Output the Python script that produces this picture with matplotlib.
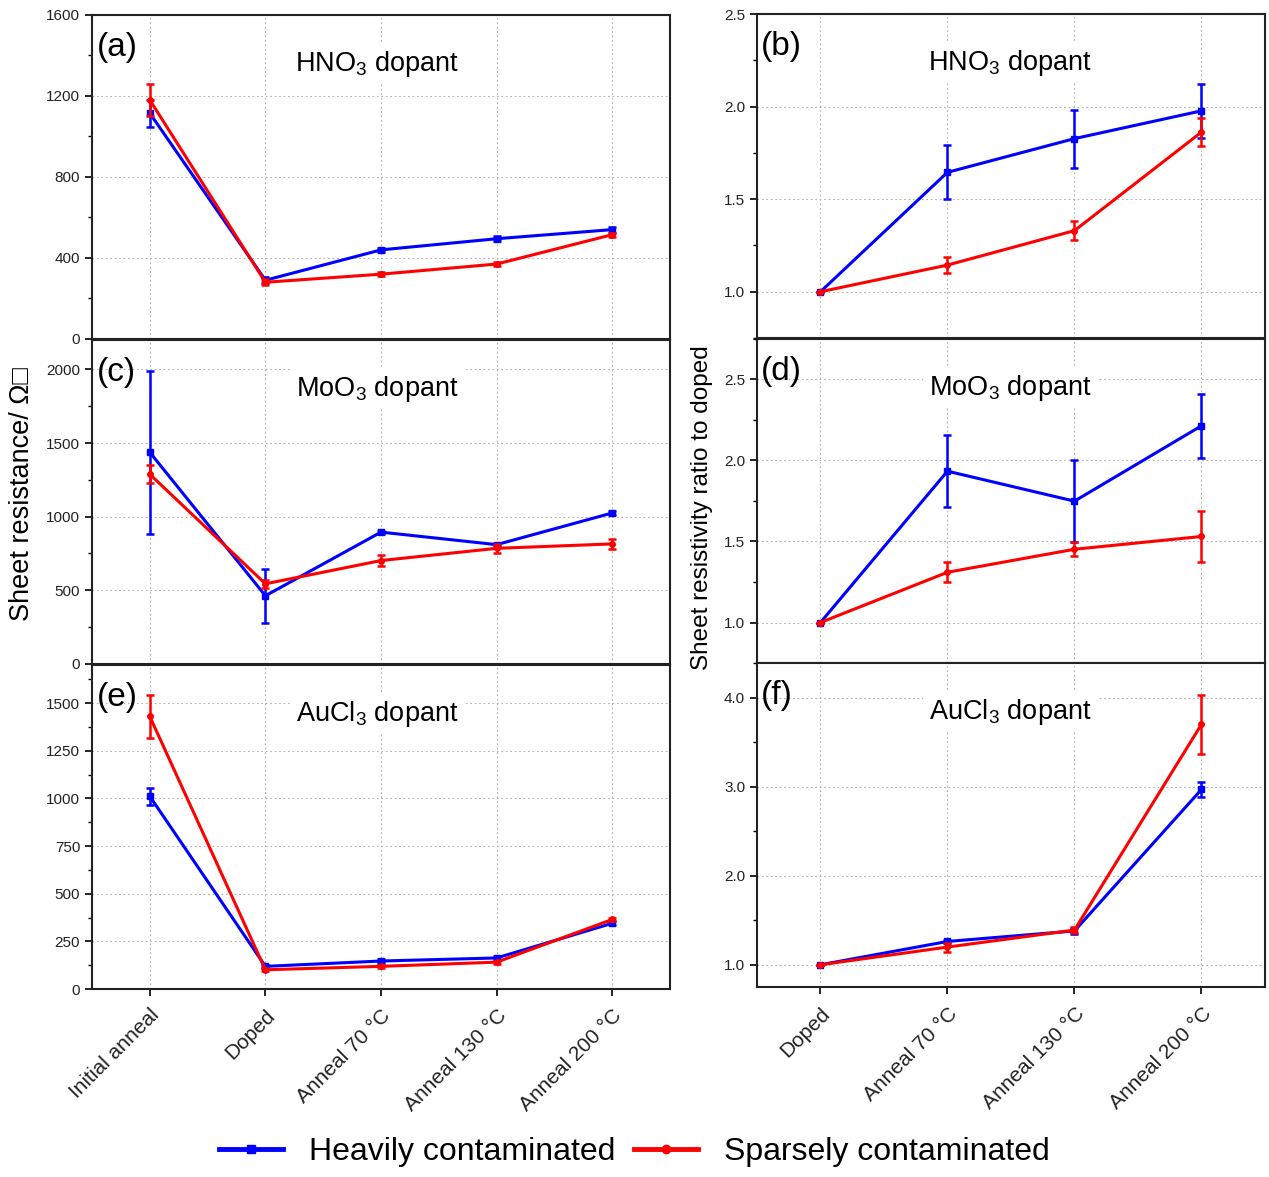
import numpy as np
import matplotlib
matplotlib.use("Agg")
import matplotlib.pyplot as plt
from matplotlib.ticker import MultipleLocator, FormatStrFormatter
from matplotlib.lines import Line2D

plt.rcParams['font.family'] = ['Liberation Sans', 'DejaVu Sans']
plt.rcParams['mathtext.fontset'] = 'custom'
plt.rcParams['mathtext.rm'] = 'Liberation Sans'

stages_left = ['Initial anneal', 'Doped', 'Anneal 70 °C', 'Anneal 130 °C', 'Anneal 200 °C']
stages_right = ['Doped', 'Anneal 70 °C', 'Anneal 130 °C', 'Anneal 200 °C']
dopants = ['HNO$_3$ dopant', 'MoO$_3$ dopant', 'AuCl$_3$ dopant']

# sheet resistance (ohm/sq), heavily / sparsely contaminated
hno3_heavy = [1115, 290, 440, 495, 540]
hno3_heavy_err = [67, 15, 10, 12, 15]
hno3_sparse = [1180, 280, 320, 370, 515]
hno3_sparse_err = [80, 15, 10, 8, 10]

moo3_heavy = [1437, 463, 895, 810, 1025]
moo3_heavy_err = [553, 183, 10, 12, 15]
moo3_sparse = [1288, 544, 702, 785, 815]
moo3_sparse_err = [60, 25, 40, 30, 35]

aucl3_heavy = [1011, 119, 147, 163, 345]
aucl3_heavy_err = [43, 8, 8, 8, 10]
aucl3_sparse = [1430, 101, 119, 141, 365]
aucl3_sparse_err = [115, 8, 8, 8, 10]

# ratio to doped
hno3_ratio_heavy = [1.0, 1.645, 1.827, 1.977]
hno3_ratio_heavy_err = [0.0, 0.145, 0.156, 0.147]
hno3_ratio_sparse = [1.0, 1.144, 1.33, 1.862]
hno3_ratio_sparse_err = [0.0, 0.045, 0.05, 0.075]

moo3_ratio_heavy = [1.0, 1.934, 1.749, 2.214]
moo3_ratio_heavy_err = [0.0, 0.223, 0.255, 0.196]
moo3_ratio_sparse = [1.0, 1.31, 1.452, 1.531]
moo3_ratio_sparse_err = [0.0, 0.062, 0.042, 0.16]

aucl3_ratio_heavy = [1.0, 1.262, 1.38, 2.969]
aucl3_ratio_heavy_err = [0.0, 0.02, 0.03, 0.08]
aucl3_ratio_sparse = [1.0, 1.199, 1.39, 3.7]
aucl3_ratio_sparse_err = [0.0, 0.05, 0.03, 0.33]

left_data = [(hno3_heavy, hno3_heavy_err, hno3_sparse, hno3_sparse_err),
             (moo3_heavy, moo3_heavy_err, moo3_sparse, moo3_sparse_err),
             (aucl3_heavy, aucl3_heavy_err, aucl3_sparse, aucl3_sparse_err)]
right_data = [(hno3_ratio_heavy, hno3_ratio_heavy_err, hno3_ratio_sparse, hno3_ratio_sparse_err),
              (moo3_ratio_heavy, moo3_ratio_heavy_err, moo3_ratio_sparse, moo3_ratio_sparse_err),
              (aucl3_ratio_heavy, aucl3_ratio_heavy_err, aucl3_ratio_sparse, aucl3_ratio_sparse_err)]

left_ylims = [(0, 1600), (0, 2200), (0, 1700)]
left_major = [400, 500, 250]
left_minor = [200, 250, 125]
right_ylims = [(0.75, 2.5), (0.75, 2.75), (0.75, 4.39)]
right_major = [0.5, 0.5, 1.0]
right_minor = [0.25, 0.25, 0.5]
labels_left = ['(a)', '(c)', '(e)']
labels_right = ['(b)', '(d)', '(f)']

BLUE = '#0000ff'
RED = '#ff0000'

fig = plt.figure(figsize=(12.69, 11.77), dpi=100)

left_x, left_w = 0.0725, 0.4555
right_x, right_w = 0.5965, 0.4003
h = 0.2753
left_bottoms = [0.712, 0.4359, 0.1597]
right_bottoms = [0.7128, 0.4367, 0.1614]


def style_axes(ax, ymaj, ymin):
    ax.yaxis.set_major_locator(MultipleLocator(ymaj))
    ax.yaxis.set_minor_locator(MultipleLocator(ymin))
    ax.grid(True, which='major', linestyle=(0, (1.5, 2.5)), color='#b0b0b0', linewidth=0.8)
    ax.set_axisbelow(True)
    for sp in ax.spines.values():
        sp.set_linewidth(1.5)
        sp.set_color('#222222')
    ax.tick_params(axis='both', which='major', direction='out', length=5, width=1.2,
                   labelsize=11, labelcolor='#222222', right=False, top=False)
    ax.tick_params(axis='y', which='minor', direction='out', length=3, width=1.0)
    ax.tick_params(axis='x', which='minor', bottom=False)
    ax.tick_params(axis='x', which='major', pad=7)


def draw(ax, x, heavy, heavy_err, sparse, sparse_err):
    ax.errorbar(x, heavy, yerr=heavy_err, color=BLUE, lw=2.2, marker='s', ms=4,
                capsize=3, capthick=1.8, elinewidth=1.8, zorder=3)
    ax.errorbar(x, sparse, yerr=sparse_err, color=RED, lw=2.2, marker='o', ms=4,
                capsize=3, capthick=1.8, elinewidth=1.8, zorder=4)


for i in range(3):
    ax = fig.add_axes([left_x, left_bottoms[i], left_w, h])
    xl = np.arange(len(stages_left))
    hv, hve, sp, spe = left_data[i]
    draw(ax, xl, hv, hve, sp, spe)
    ax.set_xlim(-0.5, len(stages_left) - 0.5)
    ax.set_ylim(*left_ylims[i])
    ax.set_xticks(xl)
    style_axes(ax, left_major[i], left_minor[i])
    if i == 2:
        ax.set_xticklabels(stages_left, rotation=45, ha='right', rotation_mode='anchor', fontsize=15)
    else:
        ax.set_xticklabels([])
    ax.text(0.008, 0.9, labels_left[i], transform=ax.transAxes, fontsize=24, va='center', ha='left')
    ax.text(0.493, 0.85, dopants[i], transform=ax.transAxes, fontsize=19.5, va='center', ha='center',
            bbox=dict(facecolor='white', edgecolor='none', pad=4), zorder=2)

    ax = fig.add_axes([right_x, right_bottoms[i], right_w, h])
    xr = np.arange(len(stages_right))
    hv, hve, sp, spe = right_data[i]
    draw(ax, xr, hv, hve, sp, spe)
    ax.set_xlim(-0.5, len(stages_right) - 0.5)
    ax.set_ylim(*right_ylims[i])
    ax.set_xticks(xr)
    style_axes(ax, right_major[i], right_minor[i])
    ax.yaxis.set_major_formatter(FormatStrFormatter('%.1f'))
    if i == 2:
        ax.set_xticklabels(stages_right, rotation=45, ha='right', rotation_mode='anchor', fontsize=15)
    else:
        ax.set_xticklabels([])
    ax.text(0.008, 0.9, labels_right[i], transform=ax.transAxes, fontsize=24, va='center', ha='left')
    ax.text(0.498, 0.85, dopants[i], transform=ax.transAxes, fontsize=19.5, va='center', ha='center',
            bbox=dict(facecolor='white', edgecolor='none', pad=4), zorder=2)

fig.text(0.017, 0.58, 'Sheet resistance/ Ω□', rotation=90, fontsize=19.5, va='center', ha='center')
fig.text(0.553, 0.569, 'Sheet resistivity ratio to doped', rotation=90, fontsize=17.5, va='center', ha='center')

handles = [Line2D([], [], color=BLUE, lw=3.5, marker='s', ms=6),
           Line2D([], [], color=RED, lw=3.5, marker='o', ms=6)]
fig.legend(handles, ['Heavily contaminated', 'Sparsely contaminated'], loc='center',
           bbox_to_anchor=(0.5, 0.021), ncol=2, frameon=False, fontsize=23,
           handlelength=2.0, columnspacing=0.6, handletextpad=0.8)

fig.savefig('out.png', dpi=100)
